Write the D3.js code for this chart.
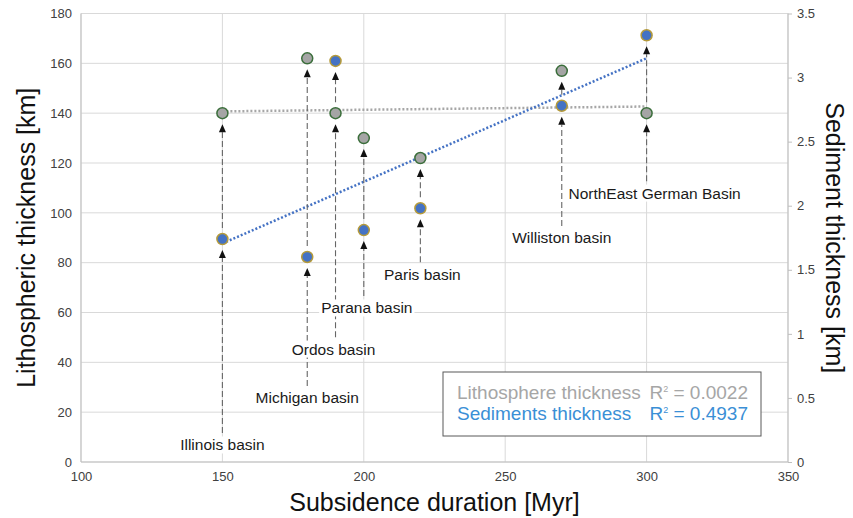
<!DOCTYPE html>
<html>
<head>
<meta charset="utf-8">
<script src="https://cdn.jsdelivr.net/npm/d3@7"></script>
<style>
  body { margin: 0; background: #fff; }
  text { font-family: "Liberation Sans", Arial, sans-serif; }
</style>
</head>
<body>
<div id="chart"></div>
<script>
// chart values
const basins = ["Illinois basin", "Michigan basin", "Ordos basin", "Parana basin",
                "Paris basin", "Williston basin", "NorthEast German Basin"];
const durations = [150, 180, 190, 200, 220, 270, 300];          // Myr
const lithoThickness = [140, 162, 140, 130, 122, 157, 140];     // km (left axis)
const sedThickness = [1.74, 1.60, 3.13, 1.81, 1.98, 2.78, 3.33]; // km (right axis)

const xTicks = [100, 150, 200, 250, 300, 350];
const yLeftTicks = [0, 20, 40, 60, 80, 100, 120, 140, 160, 180];
const yRightTicks = [0, 0.5, 1, 1.5, 2, 2.5, 3, 3.5];

const legendNames = ["Lithosphere thickness", "Sediments thickness"];
const legendR2 = ["0.0022", "0.4937"];

// where the basin names sit (left-axis km, px shift)
const labelLayout = [[6.8, 0], [25.7, 0], [45.3, -2], [61.8, 3], [75.4, 2], [89.9, 0], [107.9, 8]];

const W = 853, H = 518;
const plot = {left: 81, right: 788, top: 13.5, bottom: 462};

const svg = d3.select("#chart").append("svg")
    .attr("width", W)
    .attr("height", H);

const x = d3.scaleLinear().domain([100, 350]).range([plot.left, plot.right]);
const yL = d3.scaleLinear().domain([0, 180]).range([plot.bottom, plot.top]);
const yR = d3.scaleLinear().domain([0, 3.5]).range([plot.bottom, plot.top]);

// gridlines
svg.append("g")
    .selectAll("line")
    .data(yLeftTicks)
    .enter()
    .append("line")
    .attr("x1", plot.left).attr("x2", plot.right)
    .attr("y1", d => yL(d)).attr("y2", d => yL(d))
    .style("stroke", "#d9d9d9").style("stroke-width", 1);

svg.append("g")
    .selectAll("line")
    .data(xTicks)
    .enter()
    .append("line")
    .attr("x1", d => x(d)).attr("x2", d => x(d))
    .attr("y1", plot.top).attr("y2", plot.bottom)
    .style("stroke", "#d9d9d9").style("stroke-width", 1);

// axis lines
svg.append("line")
    .attr("x1", plot.left).attr("x2", plot.right)
    .attr("y1", plot.bottom).attr("y2", plot.bottom)
    .style("stroke", "#bfbfbf").style("stroke-width", 1.2);
svg.append("line")
    .attr("x1", plot.left).attr("x2", plot.left)
    .attr("y1", plot.top).attr("y2", plot.bottom)
    .style("stroke", "#bfbfbf").style("stroke-width", 1);
svg.append("line")
    .attr("x1", plot.right).attr("x2", plot.right)
    .attr("y1", plot.top).attr("y2", plot.bottom)
    .style("stroke", "#bfbfbf").style("stroke-width", 1);

// axes
const tickStyle = g => {
    g.select(".domain").remove();
    g.selectAll("text").style("font-size", "13px").style("fill", "#404040")
        .style("font-family", "'Liberation Sans', Arial, sans-serif");
};

svg.append("g")
    .attr("transform", `translate(${plot.left},0)`)
    .call(d3.axisLeft(yL).tickValues(yLeftTicks).tickSize(0).tickPadding(9))
    .call(tickStyle);

svg.append("g")
    .attr("transform", `translate(0,${plot.bottom})`)
    .call(d3.axisBottom(x).tickValues(xTicks).tickSize(0).tickPadding(10))
    .call(tickStyle);

svg.append("g")
    .attr("transform", `translate(${plot.right},0)`)
    .call(d3.axisRight(yR).tickValues(yRightTicks).tickSize(4).tickPadding(5).tickFormat(d => d))
    .call(tickStyle)
    .call(g => g.selectAll("line").style("stroke", "#bfbfbf"));

// axis titles
svg.append("text")
    .attr("x", (plot.left + plot.right) / 2)
    .attr("y", 511)
    .attr("text-anchor", "middle")
    .style("font-size", "25px").style("fill", "#111")
    .text("Subsidence duration [Myr]");

svg.append("text")
    .attr("transform", `translate(35,${(plot.top + plot.bottom) / 2}) rotate(-90)`)
    .attr("text-anchor", "middle")
    .style("font-size", "25px").style("fill", "#111")
    .text("Lithospheric thickness [km]");

svg.append("text")
    .attr("transform", `translate(826,${(plot.top + plot.bottom) / 2}) rotate(90)`)
    .attr("text-anchor", "middle")
    .style("font-size", "25px").style("fill", "#111")
    .text("Sediment thickness [km]");

// linear trend lines (least squares)
function fit(xs, ys) {
    const mx = d3.mean(xs), my = d3.mean(ys);
    const sxy = d3.sum(xs, (v, i) => (v - mx) * (ys[i] - my));
    const sxx = d3.sum(xs, v => (v - mx) * (v - mx));
    const b = sxy / sxx;
    return v => my + b * (v - mx);
}
const xExt = d3.extent(durations);
const lithoFit = fit(durations, lithoThickness);
const sedFit = fit(durations, sedThickness);

svg.append("line")
    .attr("x1", x(xExt[0])).attr("x2", x(xExt[1]))
    .attr("y1", yL(lithoFit(xExt[0]))).attr("y2", yL(lithoFit(xExt[1])))
    .style("stroke", "#a6a6a6").style("stroke-width", 2.5)
    .style("stroke-dasharray", "2,2");

svg.append("line")
    .attr("x1", x(xExt[0])).attr("x2", x(xExt[1]))
    .attr("y1", yR(sedFit(xExt[0]))).attr("y2", yR(sedFit(xExt[1])))
    .style("stroke", "#4472c4").style("stroke-width", 2.5)
    .style("stroke-dasharray", "2,2");

// dashed arrows from basin names to points
const ann = svg.append("g");
const gap = 11, head = 8;
basins.forEach((name, i) => {
    const px = x(durations[i]);
    const pL = yL(lithoThickness[i]), pS = yR(sedThickness[i]);
    const lower = Math.max(pL, pS), upper = Math.min(pL, pS);
    const labY = yL(labelLayout[i][0]);

    const segs = [[labY - 12, lower + gap + head], [lower - gap, upper + gap + head]];
    segs.forEach(s => {
        ann.append("line")
            .attr("x1", px).attr("x2", px)
            .attr("y1", s[0]).attr("y2", s[1])
            .style("stroke", "#666").style("stroke-width", 1.1)
            .style("stroke-dasharray", "6,3");
    });
    [lower, upper].forEach(p => {
        const tip = p + gap;
        ann.append("path")
            .attr("d", `M${px},${tip} L${px - 3.5},${tip + head} L${px + 3.5},${tip + head} Z`)
            .style("fill", "#111");
    });
});

// basin names on white boxes
const labels = svg.append("g");
basins.forEach((name, i) => {
    const g = labels.append("g");
    const t = g.append("text")
        .attr("x", x(durations[i]) + labelLayout[i][1])
        .attr("y", yL(labelLayout[i][0]))
        .attr("dy", "0.35em")
        .attr("text-anchor", "middle")
        .style("font-size", "15.5px").style("fill", "#1a1a1a")
        .text(name);
    const bb = t.node().getBBox();
    g.insert("rect", "text")
        .attr("x", bb.x - 2).attr("y", bb.y)
        .attr("width", bb.width + 4).attr("height", bb.height)
        .style("fill", "#fff");
});

// points
svg.append("g")
    .selectAll("circle")
    .data(durations)
    .enter()
    .append("circle")
    .attr("cx", d => x(d))
    .attr("cy", (d, i) => yL(lithoThickness[i]))
    .attr("r", 5.5)
    .style("fill", "#a5a5a5").style("stroke", "#3b6e3b").style("stroke-width", 1.5);

svg.append("g")
    .selectAll("circle")
    .data(durations)
    .enter()
    .append("circle")
    .attr("cx", d => x(d))
    .attr("cy", (d, i) => yR(sedThickness[i]))
    .attr("r", 5.5)
    .style("fill", "#4472c4").style("stroke", "#b59a3a").style("stroke-width", 1.5);

// legend
const leg = svg.append("g");
leg.append("rect")
    .attr("x", 443).attr("y", 372).attr("width", 318).attr("height", 64)
    .style("fill", "#fff").style("stroke", "#595959").style("stroke-width", 1);

const legColors = ["#a6a6a6", "#3a8fd6"];
legendNames.forEach((name, i) => {
    const yb = 399 + i * 21;
    leg.append("text")
        .attr("x", 457).attr("y", yb)
        .style("font-size", "19px").style("fill", legColors[i])
        .text(name);
    const r2 = leg.append("text")
        .attr("x", 748).attr("y", yb)
        .attr("text-anchor", "end")
        .style("font-size", "19px").style("fill", legColors[i]);
    r2.append("tspan").text("R");
    r2.append("tspan").attr("dy", -7).style("font-size", "9px").text("2");
    r2.append("tspan").attr("dy", 7).text(" = " + legendR2[i]);
});
</script>
</body>
</html>
